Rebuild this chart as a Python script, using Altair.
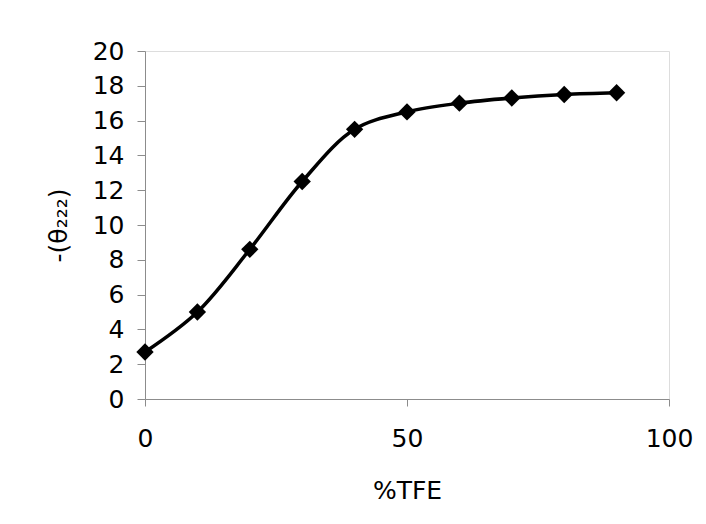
import altair as alt
import pandas as pd

tfe = [0, 10, 20, 30, 40, 50, 60, 70, 80, 90]
theta = [2.7, 5.0, 8.6, 12.5, 15.5, 16.5, 17.0, 17.3, 17.5, 17.6]
x_ticks = [0, 50, 100]
y_ticks = list(range(0, 21, 2))

df = pd.DataFrame({"tfe": tfe, "theta": theta})

FONT = "DejaVu Sans"
GRAY = "#8c8c8c"
FS = 25

x_enc = alt.X(
    "tfe:Q",
    scale=alt.Scale(domain=[0, 100], nice=False),
    axis=alt.Axis(
        values=x_ticks, title="%TFE", grid=False, domainColor=GRAY, tickColor=GRAY,
        tickSize=7, labelPadding=20, labelFontSize=FS, labelFont=FONT, labelColor="black",
        labelFlush=False, labelOverlap=False, labelBound=False,
        titleFontSize=FS, titleFont=FONT, titleFontWeight="normal", titleColor="black",
        titleBaseline="alphabetic", titleY=99, titleX=262,
    ),
)
y_enc = alt.Y(
    "theta:Q",
    scale=alt.Scale(domain=[0, 20], nice=False),
    axis=alt.Axis(
        values=y_ticks, title="-(θ₂₂₂)", grid=False, domainColor=GRAY, tickColor=GRAY,
        tickSize=8, labelPadding=13, labelFontSize=FS, labelFont=FONT, labelColor="black",
        labelFlush=False, labelOverlap=False, labelBound=False,
        titleFontSize=FS, titleFont=FONT, titleFontWeight="normal", titleColor="black",
        titleAngle=-90, titleBaseline="middle", titleX=-87, titleY=174,
    ),
)

base = alt.Chart(df).encode(x=x_enc, y=y_enc)
line = base.mark_line(color="black", strokeWidth=3.5, interpolate="catmull-rom")
pts = base.mark_point(shape="diamond", filled=True, color="black", size=300, opacity=1)

chart = (
    alt.layer(line, pts)
    .properties(
        width=524,
        height=348,
        autosize=alt.AutoSizeParams(type="none"),
        padding={"left": 137, "top": 43, "right": 29, "bottom": 117},
    )
    .configure_view(stroke=GRAY, strokeWidth=1)
    .configure_axis(labelOverlap=False)
    .configure(background="white")
)

chart.save("out.html", embed_options={"renderer": "svg", "actions": False})
